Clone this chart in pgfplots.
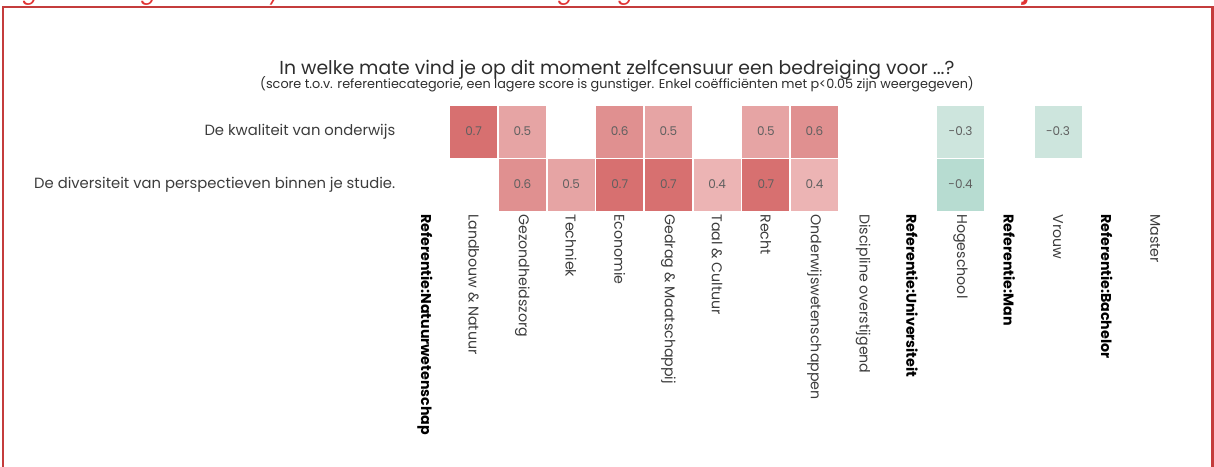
\documentclass[border=0pt]{standalone}
\usepackage{fontspec}
\setmainfont{Poppins}
\usepackage{pgfplots}
\pgfplotsset{compat=1.18}
\definecolor{framered}{RGB}{196,60,60}
\definecolor{capred}{RGB}{225,50,50}
\definecolor{titlegray}{RGB}{45,45,45}
\definecolor{labelgray}{RGB}{60,60,60}
\definecolor{numgray}{RGB}{95,95,95}
\definecolor{c07}{RGB}{215,112,112}
\definecolor{c06}{RGB}{224,144,144}
\definecolor{c05}{RGB}{230,164,164}
\definecolor{c04}{RGB}{236,180,180}
\definecolor{cm03}{RGB}{205,229,221}
\definecolor{cm04}{RGB}{183,220,209}
\pgfplotsset{cell/.style={only marks, mark=square*, mark size=11.5pt,
  mark options={draw=#1, fill=#1, yscale=1.109},
  point meta=explicit, nodes near coords,
  every node near coord/.append style={anchor=center, font=\fontsize{6}{7}\selectfont, text=numgray}}}
\begin{document}
\begin{tikzpicture}
\path[use as bounding box, clip] (0,0) rectangle (607pt,233pt);
\node[anchor=base west, font=\fontsize{11}{13}\selectfont\itshape, text=capred, inner sep=0pt] at (3pt,233.2pt) {Figuur 30 Regressieanalyse van ref. van factoren: gevolgen van zelfcensuur: \textbf{Studie onderwijs}};
\draw[framered, line width=1.2pt] (1.5pt,-3pt) -- (1.5pt,229.5pt) -- (606.3pt,229.5pt) -- (606.3pt,-3pt);
\node[anchor=base, inner sep=0pt, font=\fontsize{9.4}{11}\selectfont, text=titlegray] at (308.5pt,195.8pt) {In welke mate vind je op dit moment zelfcensuur een bedreiging voor ...?};
\node[anchor=base, inner sep=0pt, font=\fontsize{6.4}{7}\selectfont, text=titlegray] at (308.5pt,188.6pt) {(score t.o.v. referentiecategorie, een lagere score is gunstiger. Enkel coëfficiënten met p<0.05 zijn weergegeven)};
\begin{axis}[
  at={(200.33pt,127.5pt)}, anchor=south west,
  scale only axis, width=389.5pt, height=53pt,
  xmin=-0.5, xmax=15.5, ymin=-0.5, ymax=1.5,
  axis line style={draw=none}, tick style={draw=none},
  xtick={0,...,15}, ytick={0,1},
  yticklabels={De diversiteit van perspectieven binnen je studie., De kwaliteit van onderwijs},
  xticklabels={{\bfseries\color{black}Referentie:Natuurwetenschap}, Landbouw \& Natuur, Gezondheidszorg, Techniek, Economie, Gedrag \& Maatschappij, Taal \& Cultuur, Recht, Onderwijswetenschappen, Discipline overstijgend, {\bfseries\color{black}Referentie:Universiteit}, Hogeschool, {\bfseries\color{black}Referentie:Man}, Vrouw, {\bfseries\color{black}Referentie:Bachelor}, Master},
  xticklabel style={rotate=-90, anchor=west, inner sep=1.5pt, font=\fontsize{7.1}{8}\selectfont, text=labelgray},
  yticklabel style={anchor=east, inner sep=2.5pt, font=\fontsize{7.4}{8}\selectfont, text=labelgray},
  /pgf/number format/assume math mode=true,
  /pgf/number format/fixed,
  /pgf/number format/fixed zerofill,
  /pgf/number format/precision=1,
]
\addplot[cell=c07] table[meta=v] {
x y v
1 1 0.7
4 0 0.7
5 0 0.7
7 0 0.7
};
\addplot[cell=c06] table[meta=v] {
x y v
4 1 0.6
8 1 0.6
2 0 0.6
};
\addplot[cell=c05] table[meta=v] {
x y v
2 1 0.5
5 1 0.5
7 1 0.5
3 0 0.5
};
\addplot[cell=c04] table[meta=v] {
x y v
6 0 0.4
8 0 0.4
};
\addplot[cell=cm03] table[meta=v] {
x y v
11 1 -0.3
13 1 -0.3
};
\addplot[cell=cm04] table[meta=v] {
x y v
11 0 -0.4
};
\end{axis}
\end{tikzpicture}
\end{document}
